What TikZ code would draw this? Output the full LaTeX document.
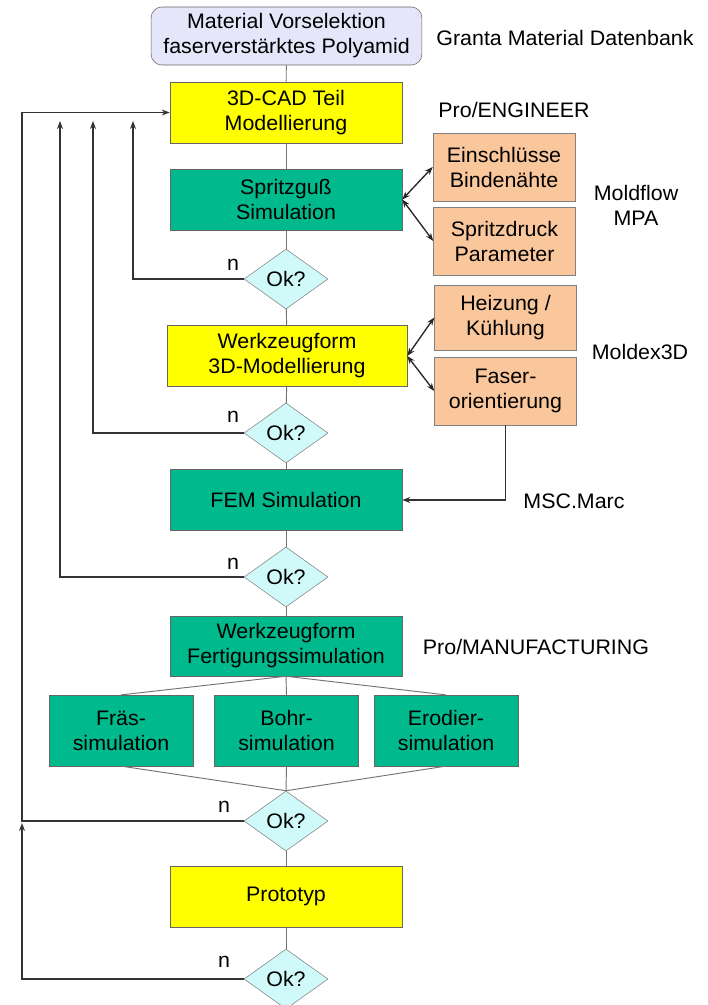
\documentclass[tikz,border=0pt]{standalone}
\usepackage{fontspec}
\setmainfont[FakeStretch=1.02]{Liberation Sans}
\usetikzlibrary{shapes.geometric,arrows.meta}

\definecolor{lav}{RGB}{230,230,250}
\definecolor{gelb}{RGB}{255,255,0}
\definecolor{gruen}{RGB}{0,185,140}
\definecolor{pfirsich}{RGB}{250,198,156}
\definecolor{hellcyan}{RGB}{208,250,250}

\begin{document}
\begin{tikzpicture}[x=0.75pt, y=-0.75pt, >={Stealth[length=6pt,width=4.5pt]},
        font=\fontsize{15.75}{18.75}\selectfont]
    \useasboundingbox (0,0) rectangle (707,1005);
    \begin{scope}[every node/.style={draw=black!60, align=center, inner sep=1pt,
            minimum width=174pt, minimum height=46pt}]
        \node[fill=lav, rounded corners=8pt, minimum width=203pt, minimum height=43.5pt]
            (mat) at (286.5,36) {Material Vorselektion\\faserverstärktes Polyamid};
        \node[fill=gelb] (cad) at (286,112.5) {3D-CAD Teil\\Modellierung};
        \node[fill=gruen] (spritz) at (286,199.5) {Spritzguß\\Simulation};
        \node[fill=gelb, minimum width=180pt] (wzf) at (287,356) {Werkzeugform\\3D-Modellierung};
        \node[fill=gruen] (fem) at (286,500) {FEM Simulation};
        \node[fill=gruen, minimum height=45pt] (fert) at (286,646) {Werkzeugform\\Fertigungssimulation};
        \node[fill=gelb] (proto) at (286,896.5) {Prototyp};
    \end{scope}
    \begin{scope}[every node/.style={draw=black!50, fill=pfirsich, align=center, inner sep=1pt,
            minimum width=106.5pt, minimum height=51pt}]
        \node (einschl) at (504,167) {Einschlüsse\\Bindenähte};
        \node (druck) at (504.5,241) {Spritzdruck\\Parameter};
        \node[minimum height=49pt] (heiz) at (505.5,317.5) {Heizung /\\Kühlung};
        \node (faser) at (505.5,391) {Faser-\\orientierung};
    \end{scope}
    \begin{scope}[every node/.style={draw=black!60, fill=gruen, align=center, inner sep=1pt,
            minimum width=108pt, minimum height=53pt}]
        \node (fraes) at (121,730.5) {Fräs-\\simulation};
        \node (bohr) at (286.5,730.5) {Bohr-\\simulation};
        \node (erod) at (446,730.5) {Erodier-\\simulation};
    \end{scope}
    \begin{scope}[every node/.style={diamond, draw=black!50, fill=hellcyan, inner sep=0pt,
            aspect=1.4, minimum width=63pt, minimum height=45pt}]
        \node (ok1) at (286,279) {Ok?};
        \node (ok2) at (286,433) {Ok?};
        \node (ok3) at (286,577) {Ok?};
        \node (ok4) at (286,821) {Ok?};
        \node (ok5) at (286,979) {Ok?};
    \end{scope}
    % Programme rechts neben den Schritten
    \node (granta) at (565,38) {Granta Material Datenbank};
    \node (proe) at (514,110) {Pro/ENGINEER};
    \node[align=center] (moldflow) at (636,205.5) {Moldflow\\MPA};
    \node (moldex) at (640,352) {Moldex3D};
    \node (marc) at (574,501) {MSC.Marc};
    \node (promfg) at (536,647) {Pro/MANUFACTURING};
    \begin{scope}[every node/.style={inner sep=0pt}]
        \node (n1) at (233,265) {n};
        \node (n2) at (233,417) {n};
        \node (n3) at (233,564) {n};
        \node (n4) at (224,807) {n};
        \node (n5) at (224,962) {n};
    \end{scope}
    \coordinate (r1) at (133,121);
    \coordinate (r2) at (93,121);
    \coordinate (r3) at (60,121);
    \coordinate (r4) at (22,821);
    \coordinate (r5) at (22,823);
    \begin{scope}[every edge/.style={draw=black!55, line width=0.7pt}]
        \draw (mat) edge (cad);
        \draw (cad) edge (spritz);
        \draw (spritz) edge (ok1);
        \draw (ok1) edge (wzf);
        \draw (wzf) edge (ok2);
        \draw (ok2) edge (fem);
        \draw (fem) edge (ok3);
        \draw (ok3) edge (fert);
        \draw (fert.south) edge (fraes.north) edge (bohr.north) edge (erod.north);
        \draw (ok4.north) edge (fraes.south) edge (bohr.south) edge (erod.south);
        \draw (ok4) edge (proto);
        \draw (proto) edge (ok5);
    \end{scope}
    \begin{scope}[every edge/.style={draw=black!85, line width=1pt, <->}]
        \draw (spritz.east) edge (einschl.west);
        \draw (spritz.east) edge (druck.west);
        \draw (wzf.east) edge (heiz.west);
        \draw (wzf.east) edge (faser.west);
    \end{scope}
    % Rueckfuehrungen
    \begin{scope}[draw=black!80, line width=1.1pt]
        \draw[->] (faser.south) |- (fem.east);
        \draw[->] (ok1.west) -| (r1);
        \draw[->] (ok2.west) -| (r2);
        \draw[->] (ok3.west) -| (r3);
        \draw[->] (ok4.west) -- (r4) |- (cad.west);
        \draw[->] (ok5.west) -| (r5);
    \end{scope}
\end{tikzpicture}
\end{document}
